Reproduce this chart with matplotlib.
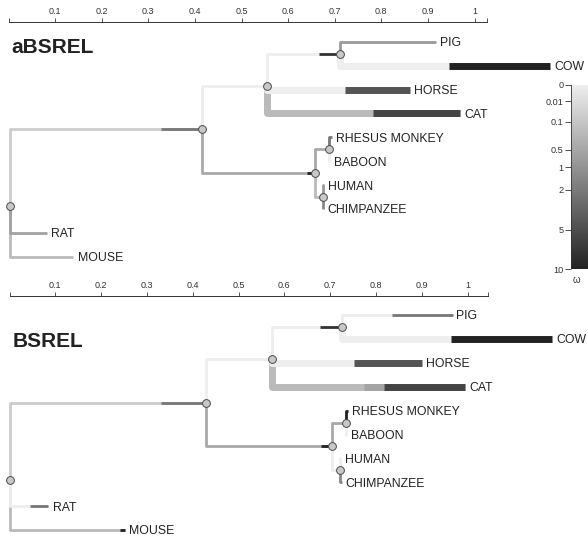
import matplotlib
matplotlib.use("Agg")
import matplotlib.pyplot as plt
from matplotlib.colors import LinearSegmentedColormap, PowerNorm
from matplotlib.cm import ScalarMappable

plt.rcParams["font.family"] = ["Liberation Sans", "DejaVu Sans"]

# ---------------------------------------------------------------- tree data
tip_order = ["PIG", "COW", "HORSE", "CAT", "RHESUS MONKEY", "BABOON",
             "HUMAN", "CHIMPANZEE", "RAT", "MOUSE"]

branch_nodes = ["Node1", "Node2", "Node3", "Node4", "Node5", "Node6",
                "PIG", "COW", "HORSE", "CAT", "RHESUS MONKEY", "BABOON",
                "HUMAN", "CHIMPANZEE", "RAT", "MOUSE"]
branch_parents = ["ROOT", "Node1", "Node2", "Node1", "Node4", "Node4",
                  "Node3", "Node3", "Node2", "Node2", "Node5", "Node5",
                  "Node6", "Node6", "ROOT", "ROOT"]

# branches with episodic diversifying selection (drawn thick)
selected = ["COW", "HORSE", "CAT"]

# aBSREL fit: branch lengths, omega classes and their weights
absrel_length = [0.411, 0.140, 0.157, 0.244, 0.030, 0.016,
                 0.206, 0.451, 0.307, 0.415, 0.006, 0.001,
                 0.002, 0.001, 0.079, 0.136]
absrel_omega = [[0.06, 2.1], [0.0], [0.0, 7.8], [0.45, 10.0], [0.45], [0.2],
                [0.8], [0.0, 10.0], [0.0, 4.4], [0.2, 5.9], [2.1], [0.0],
                [0.8], [1.4], [0.6], [0.2]]
absrel_weight = [[0.79, 0.21], [1.0], [0.71, 0.29], [0.93, 0.07], [1.0], [1.0],
                 [1.0], [0.52, 0.48], [0.55, 0.45], [0.55, 0.45], [1.0], [1.0],
                 [1.0], [1.0], [1.0], [1.0]]

# BSREL fit
bsrel_length = [0.428, 0.143, 0.153, 0.274, 0.032, 0.019,
                0.240, 0.459, 0.328, 0.422, 0.004, 0.001,
                0.001, 0.003, 0.084, 0.251]
bsrel_omega = [[0.06, 2.1], [0.0], [0.0, 7.8], [0.45, 10.0], [0.45], [0.0],
               [0.0, 2.1], [0.0, 10.0], [0.0, 4.4], [0.2, 0.55, 5.9], [10.0], [0.0],
               [0.0], [1.4], [0.0, 2.1], [0.2, 10.0]]
bsrel_weight = [[0.77, 0.23], [1.0], [0.69, 0.31], [0.92, 0.08], [1.0], [1.0],
                [0.46, 0.54], [0.52, 0.48], [0.55, 0.45], [0.48, 0.10, 0.42], [1.0], [1.0],
                [1.0], [1.0], [0.52, 0.48], [0.96, 0.04]]

scale_ticks = [0.1, 0.2, 0.3, 0.4, 0.5, 0.6, 0.7, 0.8, 0.9, 1.0]
scale_labels = ["0.1", "0.2", "0.3", "0.4", "0.5", "0.6", "0.7", "0.8", "0.9", "1"]
omega_ticks = [0, 0.01, 0.1, 0.5, 1, 2, 5, 10]
omega_labels = ["0", "0.01", "0.1", "0.5", "1", "2", "5", "10"]

# ---------------------------------------------------------------- styling
W, H = 588, 536
TEXT = "#222222"
cmap = LinearSegmentedColormap.from_list("omega", ["#eeeeee", "#222222"])
norm = PowerNorm(gamma=0.35, vmin=0, vmax=10)
LW_THIN = 2.0
LW_THICK = 5.0

fig = plt.figure(figsize=(W / 100, H / 100), dpi=100)


def layout(lengths):
    x = {"ROOT": 0.0}
    for node, par, bl in zip(branch_nodes, branch_parents, lengths):
        x[node] = x[par] + bl
    y = {t: float(i) for i, t in enumerate(tip_order)}
    for node in reversed(["ROOT"] + branch_nodes):
        if node in y:
            continue
        kids = [c for c, p in zip(branch_nodes, branch_parents) if p == node]
        y[node] = sum(y[k] for k in kids) / len(kids)
    return x, y


def draw_tree(ax, lengths, omegas, weights):
    x, y = layout(lengths)
    order = list(range(len(branch_nodes)))[::-1]
    for i in order:
        node, par = branch_nodes[i], branch_parents[i]
        lw = LW_THICK if node in selected else LW_THIN
        cols = [cmap(norm(w)) for w in omegas[i]]
        px, py, cx, cy = x[par], y[par], x[node], y[node]
        ax.plot([px, px, cx], [py, cy, cy], color=cols[0], lw=lw,
                solid_capstyle="butt", solid_joinstyle="round", zorder=2)
        start = px
        for k, (col, frac) in enumerate(zip(cols, weights[i])):
            end = start + frac * lengths[i]
            if k > 0:
                ax.plot([start, end], [cy, cy], color=col, lw=lw,
                        solid_capstyle="butt", zorder=2)
            start = end
        if node in tip_order:
            ax.plot([cx - 1e-4, cx], [cy, cy], color=cols[-1], lw=lw,
                    solid_capstyle="round", zorder=2)
            ax.annotate(node, (cx, cy), xytext=(3.0, -3.1),
                        textcoords="offset points", ha="left", va="baseline",
                        fontsize=8.8, color=TEXT, zorder=4)
    internal = ["ROOT"] + [n for n in branch_nodes if n not in tip_order]
    ax.plot([x[n] for n in internal], [y[n] for n in internal], "o",
            ms=5.6, mfc="#c8c8c8", mec="#4a4a4a", mew=0.7, zorder=5)


def tree_axes(root_px, px_per_unit, row0_px, row_px):
    ax = fig.add_axes([0, 0, 1, 1])
    ax.set_xlim(-root_px / px_per_unit, (W - root_px) / px_per_unit)
    ax.set_ylim((H - row0_px) / row_px, -row0_px / row_px)
    ax.axis("off")
    ax.patch.set_alpha(0)
    return ax


def scale_axis(y_px, x0_px, x1_px, zero_px, px_per_unit):
    h = 0.001
    ax = fig.add_axes([x0_px / W, 1 - y_px / H - h, (x1_px - x0_px) / W, h])
    ax.set_xlim((x0_px - zero_px) / px_per_unit, (x1_px - zero_px) / px_per_unit)
    for s in ["left", "right", "bottom"]:
        ax.spines[s].set_visible(False)
    ax.spines["top"].set_color("#333333")
    ax.spines["top"].set_linewidth(0.7)
    ax.set_yticks([])
    ax.xaxis.tick_top()
    ax.set_xticks(scale_ticks)
    ax.set_xticklabels(scale_labels)
    ax.set_xticks(list(ax.get_xlim()), minor=True)
    ax.tick_params(axis="x", which="both", direction="out", length=3.0,
                   width=0.6, color="#333333")
    ax.tick_params(axis="x", which="major", labelsize=6.5, pad=1.2,
                   labelcolor="#333333")
    ax.patch.set_alpha(0)
    return ax


# ---------------------------------------------------------------- aBSREL panel
ax_top = tree_axes(root_px=10, px_per_unit=466, row0_px=41.7, row_px=23.92)
draw_tree(ax_top, absrel_length, absrel_omega, absrel_weight)
scale_axis(y_px=22, x0_px=9, x1_px=487, zero_px=8.5, px_per_unit=466)
fig.text(11.5 / W, 1 - 53.3 / H, "aBSREL", fontsize=15, fontweight="bold",
         color=TEXT, ha="left", va="baseline")

# ---------------------------------------------------------------- BSREL panel
ax_bot = tree_axes(root_px=10, px_per_unit=458, row0_px=315, row_px=23.9)
draw_tree(ax_bot, bsrel_length, bsrel_omega, bsrel_weight)
scale_axis(y_px=296, x0_px=9.5, x1_px=487.7, zero_px=9.5, px_per_unit=458)
fig.text(12.5 / W, 1 - 347.3 / H, "BSREL", fontsize=15, fontweight="bold",
         color=TEXT, ha="left", va="baseline")

# ---------------------------------------------------------------- omega legend
cax = fig.add_axes([571 / W, 1 - 269.3 / H, 20 / W, (269.3 - 85) / H])
cb = fig.colorbar(ScalarMappable(norm=norm, cmap=cmap), cax=cax,
                  orientation="vertical")
cb.outline.set_visible(False)
cax.invert_yaxis()
cb.set_ticks(omega_ticks)
cb.set_ticklabels(omega_labels)
cax.yaxis.set_ticks_position("left")
cax.tick_params(axis="y", which="major", length=4, width=0.6, color="#333333",
                labelsize=6.6, labelcolor="#333333", pad=1.2)
cax.tick_params(axis="y", which="minor", length=0)
cax.axvline(0, color="#333333", lw=0.6)
fig.text(576 / W, 1 - 280 / H, "ω", fontsize=7, color="#333333",
         ha="center", va="center")

fig.savefig("out.png", dpi=100)
